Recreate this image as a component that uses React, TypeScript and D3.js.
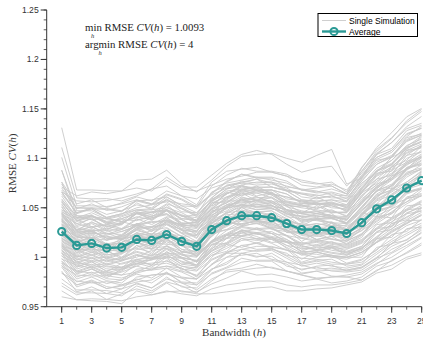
import React from "react";
import * as d3 from "d3";

// Bandwidth values
const BANDWIDTHS: number[] = d3.range(1, 26);

// Average RMSE CV(h) over simulations
const AVERAGE: number[] = [
  1.026, 1.012, 1.014, 1.0093, 1.010, 1.018, 1.017, 1.023, 1.016, 1.011,
  1.028, 1.037, 1.042, 1.042, 1.040, 1.034, 1.028, 1.028, 1.027, 1.024,
  1.035, 1.049, 1.058, 1.070, 1.0775,
];

// Single simulations, as deviations from the average (thousandths)
const SIM_A: number[][] = [
  [2,-1,1,0,-2,1,3,0,-1,2,0,1,-2,0,3,1,-1,0,2,-1,1,3,0,-2,1],
  [8,4,6,3,5,7,4,6,5,3,6,8,5,4,7,5,3,6,4,5,7,9,8,6,9],
  [-3,-6,-4,-7,-5,-3,-6,-4,-8,-5,-4,-6,-3,-5,-7,-4,-6,-5,-3,-6,-8,-7,-9,-6,-8],
  [14,9,11,12,8,10,13,11,9,12,10,13,11,9,12,14,10,11,13,9,12,15,14,16,13],
  [-8,-12,-9,-11,-13,-10,-8,-12,-10,-9,-11,-13,-10,-8,-11,-12,-9,-10,-12,-11,-13,-15,-14,-16,-15],
  [20,14,17,15,13,16,18,14,16,15,17,14,16,19,15,13,16,18,15,14,19,21,22,20,23],
  [-12,-17,-14,-16,-13,-15,-18,-14,-16,-15,-13,-17,-15,-14,-16,-18,-15,-13,-16,-14,-19,-21,-20,-23,-22],
  [25,19,21,22,18,20,23,21,19,22,20,18,21,23,20,19,22,20,18,21,26,28,27,30,29],
  [-18,-22,-19,-21,-23,-20,-18,-22,-20,-19,-21,-23,-20,-18,-21,-22,-19,-20,-22,-21,-26,-28,-27,-29,-30],
  [30,24,27,25,23,26,28,24,26,25,27,24,26,28,25,23,26,27,25,24,31,34,33,36,35],
  [-22,-27,-24,-26,-28,-25,-23,-27,-25,-24,-26,-28,-25,-23,-26,-27,-24,-25,-27,-26,-32,-34,-33,-36,-35],
  [36,28,31,29,32,30,28,31,33,30,29,32,30,28,31,33,30,29,31,32,38,41,40,43,42],
  [-27,-32,-29,-31,-33,-30,-28,-32,-30,-29,-31,-33,-30,-28,-31,-32,-29,-30,-32,-31,-38,-41,-40,-42,-43],
  [-15,-12,-9,-7,-5,-2,0,3,2,4,6,8,9,11,12,10,13,14,12,11,16,18,20,19,21],
  [18,14,12,10,9,6,5,3,2,0,-2,-3,-5,-4,-6,-7,-8,-6,-9,-8,-11,-13,-12,-14,-15],
  [48,37,40,38,41,39,36,40,42,38,37,40,42,39,38,41,40,37,39,38,47,52,50,54,53],
  [-36,-42,-39,-41,-38,-40,-43,-39,-41,-37,-40,-42,-38,-41,-39,-43,-40,-38,-41,-39,-48,-52,-50,-55,-53],
  [12,5,9,4,7,10,6,12,8,5,10,7,11,6,9,12,7,10,5,8,11,14,10,13,12],
];

const SIM_B: number[][] = [
  [-6,-11,-7,-10,-6,-9,-12,-7,-10,-8,-5,-9,-11,-7,-10,-6,-9,-12,-8,-10,-12,-10,-13,-11,-14],
  [22,16,20,17,19,21,16,18,22,19,17,20,15,18,21,17,19,16,20,18,24,22,26,25,27],
  [-16,-20,-17,-19,-21,-16,-18,-20,-17,-19,-15,-18,-21,-17,-19,-16,-20,-18,-17,-19,-24,-23,-26,-25,-27],
  [40,33,36,34,37,35,33,38,36,34,32,36,34,37,35,33,36,34,38,35,44,47,45,49,48],
  [-32,-37,-34,-36,-33,-35,-38,-34,-36,-33,-35,-37,-34,-36,-33,-35,-37,-34,-36,-35,-43,-46,-44,-48,-47],
  [6,1,4,2,5,3,1,4,2,5,3,6,2,4,1,3,5,2,4,3,5,2,6,4,7],
  [-1,-5,-2,-4,-1,-3,-6,-2,-4,-1,-3,-5,-2,-4,-1,-3,-5,-2,-4,-3,-5,-3,-6,-4,-7],
  [16,11,13,10,12,14,11,13,15,12,14,16,13,15,17,14,16,13,15,14,20,23,22,25,24],
  [-9,-14,-11,-13,-10,-12,-15,-11,-13,-10,-12,-14,-11,-13,-10,-12,-14,-11,-13,-12,-17,-19,-18,-21,-20],
  [62,30,24,22,25,23,21,24,26,23,21,24,22,25,23,21,24,22,25,23,30,33,31,35,34],
  [105,56,54,58,57,52,50,55,53,56,45,42,40,44,46,48,45,43,47,44,50,55,52,58,56],
  [85,48,45,50,47,44,52,49,46,48,42,38,36,39,41,43,40,38,42,40,48,52,50,55,53],
  [75,40,38,42,44,40,37,41,43,40,35,33,31,34,36,34,37,35,33,36,42,45,43,48,46],
  [62,35,33,31,34,30,32,35,33,31,28,30,27,29,31,33,30,28,31,29,36,39,37,41,40],
  [50,28,27,30,26,29,31,27,29,26,25,27,29,26,28,30,27,25,28,26,33,35,36,38,37],
  [45,50,52,55,57,60,62,65,58,55,50,55,60,62,65,66,68,75,82,50,45,55,58,62,65],
  [40,45,42,48,50,46,52,58,55,60,55,58,62,66,64,60,58,62,65,48,52,58,62,68,72],
  [30,25,28,26,24,27,29,25,27,26,30,32,35,33,36,38,40,42,45,40,55,62,68,72,73],
];

const SIM_C: number[][] = [
  [-66,-55,-56,-52,-54,-58,-55,-57,-53,-50,-60,-65,-68,-66,-64,-62,-58,-56,-55,-50,-58,-62,-66,-70,-73],
  [-55,-50,-48,-52,-47,-50,-53,-49,-51,-46,-55,-58,-56,-60,-57,-54,-52,-50,-53,-48,-55,-58,-62,-65,-63],
  [-48,-45,-47,-43,-46,-44,-48,-45,-42,-44,-50,-52,-55,-53,-50,-48,-46,-49,-47,-42,-50,-55,-58,-60,-58],
  [-42,-40,-38,-41,-39,-43,-40,-38,-42,-39,-45,-48,-47,-45,-43,-41,-44,-42,-40,-37,-45,-50,-53,-55,-52],
  [50,42,44,41,45,43,40,44,46,42,48,50,47,49,46,48,50,47,45,40,52,56,58,60,58],
  [-40,-47,-44,-46,-42,-45,-48,-43,-46,-42,-44,-47,-43,-46,-44,-48,-45,-42,-46,-44,-52,-56,-54,-58,-57],
  [32,30,28,27,29,26,24,25,22,20,18,16,14,15,12,10,9,11,8,7,6,8,5,4,6],
  [-30,-28,-26,-27,-24,-22,-20,-18,-16,-15,-12,-10,-8,-6,-5,-3,-1,0,2,3,8,12,15,18,20],
  [-2,3,5,8,10,12,14,15,17,19,21,23,25,26,24,27,28,26,29,27,34,38,40,42,45],
  [12,8,6,4,2,0,-3,-5,-8,-10,-12,-14,-16,-18,-20,-19,-22,-23,-25,-24,-30,-34,-36,-38,-40],
  [10,2,8,1,9,3,7,0,6,2,9,4,8,3,7,1,6,4,9,2,8,5,11,6,10],
  [-4,-10,-3,-9,-5,-8,-2,-10,-4,-7,-3,-9,-5,-8,-2,-9,-4,-7,-3,-8,-6,-10,-5,-11,-8],
  [19,15,17,14,18,16,13,17,15,18,14,16,19,15,17,14,18,16,15,17,22,20,24,23,25],
  [-19,-24,-21,-23,-20,-22,-25,-21,-23,-20,-22,-24,-21,-23,-20,-22,-24,-21,-23,-22,-28,-31,-29,-33,-32],
  [4,0,3,-1,2,5,1,3,0,2,4,1,3,-1,2,0,3,1,-1,2,3,1,4,2,5],
  [31,25,28,26,29,27,24,28,26,29,25,27,30,26,28,25,29,27,26,28,35,38,36,40,39],
  [-24,-29,-26,-28,-25,-27,-30,-26,-28,-25,-30,-32,-34,-31,-29,-27,-25,-28,-26,-24,-30,-34,-32,-36,-35],
  [17,12,15,13,16,14,11,15,13,16,12,14,17,13,15,12,16,14,13,15,19,22,20,24,23],
];

const SIM_D: number[][] = [
  [-13,-18,-15,-17,-14,-16,-19,-15,-17,-14,-16,-18,-15,-17,-14,-16,-18,-15,-17,-16,-21,-24,-22,-26,-25],
  [38,33,35,31,34,32,36,33,30,34,32,35,33,31,34,36,33,31,35,32,42,45,44,47,46],
  [-30,-34,-31,-33,-36,-32,-30,-34,-31,-33,-35,-32,-30,-34,-31,-33,-35,-32,-34,-31,-40,-44,-42,-46,-45],
  [11,7,10,8,11,9,6,10,8,11,7,9,12,8,10,7,11,9,8,10,13,11,15,14,16],
  [1,-3,0,-2,1,-1,-4,0,-2,1,-1,-3,0,-2,1,-1,-3,0,-2,-1,-2,0,-3,-1,-4],
  [18,22,16,24,19,15,23,20,17,25,21,18,24,19,16,22,25,18,21,17,28,24,30,26,31],
  [-22,-16,-24,-18,-21,-25,-17,-20,-23,-15,-19,-22,-16,-24,-20,-18,-23,-21,-17,-22,-25,-29,-24,-30,-27],
  [44,38,35,39,36,40,37,34,38,41,36,39,42,38,40,37,41,39,36,38,46,50,48,52,55],
  [-34,-40,-37,-39,-42,-38,-35,-40,-37,-39,-41,-37,-40,-38,-42,-39,-36,-40,-38,-37,-45,-49,-47,-52,-50],
  [7,4,6,3,5,2,4,1,3,0,2,-1,1,-2,0,-3,-1,-4,-2,-3,-6,-4,-7,-5,-8],
  [-7,-4,-6,-2,-4,-1,-3,0,-1,2,1,3,2,4,3,5,4,6,5,4,8,10,9,11,12],
  [27,22,25,21,24,26,22,25,23,26,24,21,25,23,26,22,24,27,23,25,32,30,34,33,36],
  [-21,-26,-23,-25,-22,-24,-27,-23,-25,-22,-24,-26,-23,-25,-22,-24,-26,-23,-25,-24,-30,-33,-31,-35,-34],
  [-52,-48,-50,-46,-49,-47,-51,-48,-45,-47,-52,-50,-53,-49,-51,-48,-46,-50,-47,-44,-58,-63,-61,-66,-65],
  [42,38,36,40,37,39,41,38,36,40,44,46,48,45,47,50,48,46,49,42,56,60,63,66,70],
  [13,9,12,10,8,11,14,10,12,9,11,13,10,12,9,11,13,10,12,11,15,18,16,19,18],
  [-11,-15,-12,-14,-11,-13,-16,-12,-14,-11,-13,-15,-12,-14,-11,-13,-15,-12,-14,-13,-18,-20,-19,-22,-21],
  [-4,3,-2,4,-3,2,-5,3,-1,4,-2,3,-4,2,-3,4,-1,3,-2,1,-4,3,-5,2,-3],
  [-60,-55,-58,-54,-57,-52,-55,-58,-50,-48,-65,-72,-75,-73,-70,-68,-62,-60,-58,-52,-60,-65,-70,-72,-75],
];

const SIM_E: number[][] = [
  [5,-8,3,-6,8,-4,6,-9,4,-3,7,-5,9,-2,5,-7,3,-4,8,-6,10,-8,12,-5,9],
  [-15,-5,-12,-3,-10,-6,-14,-4,-11,-7,-13,-2,-9,-5,-12,-8,-3,-10,-6,-11,-15,-8,-18,-10,-16],
  [25,15,22,18,26,14,20,24,16,21,27,19,23,15,25,20,17,24,18,22,30,26,33,28,35],
  [-28,-20,-25,-30,-22,-27,-19,-24,-29,-21,-26,-31,-23,-28,-20,-25,-30,-22,-27,-24,-35,-30,-38,-33,-40],
  [15,18,12,20,16,13,19,14,17,21,15,12,18,16,20,14,17,19,13,16,22,25,21,27,24],
  [0,6,-3,5,-1,7,-4,3,1,-5,4,-2,6,0,-4,5,-3,2,-6,1,-2,5,-4,3,-1],
  [-10,-4,-8,-2,-12,-6,-9,-3,-11,-5,-7,-1,-10,-4,-8,-6,-12,-3,-9,-7,-12,-8,-14,-9,-13],
  [33,27,29,24,31,28,26,30,25,32,29,27,31,25,28,30,26,33,27,29,40,37,43,39,44],
  [-35,-30,-33,-28,-31,-34,-29,-32,-27,-30,-36,-33,-38,-35,-32,-30,-34,-31,-29,-33,-42,-39,-45,-41,-47],
  [10,16,13,18,11,15,9,17,12,14,8,15,11,16,13,9,14,12,17,10,16,19,14,21,17],
  [-20,-14,-18,-12,-17,-21,-15,-19,-13,-16,-22,-18,-14,-19,-16,-12,-17,-20,-15,-18,-24,-20,-27,-22,-28],
  [22,28,24,30,26,22,29,25,23,27,31,28,26,30,24,27,29,25,28,26,34,38,35,41,39],
  [-25,-18,-22,-16,-20,-24,-19,-23,-17,-21,-18,-15,-20,-17,-22,-19,-16,-21,-18,-20,-27,-24,-30,-26,-31],
  [3,9,6,12,8,4,10,7,5,11,7,3,9,6,10,8,4,11,7,5,9,13,10,15,11],
  [-2,-8,-5,-11,-7,-3,-9,-6,-4,-10,-6,-2,-8,-5,-9,-7,-3,-10,-6,-4,-8,-12,-9,-14,-10],
  [18,10,14,8,12,16,9,13,11,15,19,13,17,11,15,18,12,16,14,13,21,17,24,19,26],
  [-14,-22,-18,-24,-16,-20,-25,-17,-21,-19,-15,-23,-17,-21,-25,-18,-22,-16,-20,-19,-26,-30,-24,-32,-28],
  [28,20,26,19,23,27,21,25,18,24,22,29,20,26,23,19,25,21,27,22,31,36,29,38,33],
  [-32,-26,-30,-24,-28,-33,-25,-29,-27,-31,-28,-24,-32,-27,-30,-26,-33,-28,-25,-30,-37,-42,-35,-44,-39],
  [7,13,10,15,9,12,6,14,11,8,13,10,16,9,12,14,8,11,13,10,14,18,12,20,16],
  [-7,-1,-4,2,-6,-3,-8,0,-5,-2,-7,-4,1,-6,-3,-9,-2,-5,0,-4,-5,-1,-7,-3,-9],
  [40,32,35,30,33,37,31,36,34,32,38,35,33,37,31,34,36,32,35,33,45,49,43,51,47],
  [-42,-36,-40,-34,-38,-41,-35,-39,-37,-33,-40,-44,-38,-42,-36,-39,-41,-37,-35,-38,-46,-50,-44,-53,-48],
  [20,26,17,23,28,19,25,21,18,24,16,22,27,20,25,18,23,26,19,21,26,30,25,33,29],
  [-17,-11,-15,-9,-13,-18,-10,-14,-12,-16,-20,-14,-18,-12,-16,-19,-13,-17,-11,-15,-20,-16,-23,-18,-24],
];

const Y_TICKS: number[] = [0.95, 1, 1.05, 1.1, 1.15, 1.2, 1.25];
const X_TICK_LABELS: number[] = [1, 3, 5, 7, 9, 11, 13, 15, 17, 19, 21, 23, 25];

const MIN_RMSE = "1.0093";
const ARGMIN = "4";

const W = 423;
const H = 341;
const TEAL = "#2b9a95";
const GRAY = "#cacaca";
const AX = "#333333";
const SANS = "'Liberation Sans', Arial, sans-serif";
const SERIF = "'Liberation Serif', 'Times New Roman', serif";

export default function App() {
  const x = d3.scaleLinear().domain([0, 25]).range([46.7, 421.7]);
  const y = d3.scaleLinear().domain([0.95, 1.25]).range([306.7, 10]);

  const sims = [...SIM_A, ...SIM_B, ...SIM_C, ...SIM_D, ...SIM_E];
  const line = d3
    .line<number>()
    .x((_, i) => x(BANDWIDTHS[i]))
    .y((v) => y(v));

  const minorY = d3.range(95, 126).map((v) => v / 100);
  const minorX = d3.range(1, 26);

  return (
    <svg
      width={W}
      height={H}
      style={{ position: "absolute", left: 0, top: 0, background: "#fff" }}
    >
      <defs>
        <clipPath id="plot">
          <rect x={x(0)} y={y(1.25)} width={x(25) - x(0)} height={y(0.95) - y(1.25)} />
        </clipPath>
      </defs>

      <g clipPath="url(#plot)">
        {sims.map((dev, k) => (
          <path
            key={k}
            d={line(dev.map((d, i) => AVERAGE[i] + d / 1000)) || ""}
            fill="none"
            stroke={GRAY}
            strokeWidth={0.9}
          />
        ))}
      </g>

      <path d={line(AVERAGE) || ""} fill="none" stroke={TEAL} strokeWidth={2.4} />
      {AVERAGE.map((v, i) => (
        <circle
          key={i}
          cx={x(BANDWIDTHS[i])}
          cy={y(v)}
          r={3.6}
          fill="none"
          stroke={TEAL}
          strokeWidth={2}
        />
      ))}

      {/* Y axis */}
      <line x1={x(0)} x2={x(0)} y1={y(1.25)} y2={y(0.95)} stroke={AX} strokeWidth={1} />
      {minorY.map((v) => (
        <line key={"my" + v} x1={x(0) - 3} x2={x(0)} y1={y(v)} y2={y(v)} stroke={AX} strokeWidth={0.8} />
      ))}
      {Y_TICKS.map((v) => (
        <g key={"y" + v}>
          <line x1={x(0) - 6} x2={x(0)} y1={y(v)} y2={y(v)} stroke={AX} strokeWidth={1} />
          <text
            x={x(0) - 8}
            y={y(v)}
            dy="0.35em"
            textAnchor="end"
            fontFamily={SANS}
            fontSize={8.6}
            fill="#333"
          >
            {d3.format("~g")(v)}
          </text>
        </g>
      ))}

      {/* X axis */}
      <line x1={x(0)} x2={x(25)} y1={y(0.95)} y2={y(0.95)} stroke={AX} strokeWidth={1} />
      {minorX.map((v) => (
        <line key={"mx" + v} x1={x(v)} x2={x(v)} y1={y(0.95)} y2={y(0.95) + 3} stroke={AX} strokeWidth={0.8} />
      ))}
      {X_TICK_LABELS.map((v) => (
        <g key={"x" + v}>
          <line x1={x(v)} x2={x(v)} y1={y(0.95)} y2={y(0.95) + 6} stroke={AX} strokeWidth={1} />
          <text
            x={x(v)}
            y={323.5}
            textAnchor="middle"
            fontFamily={SANS}
            fontSize={8.6}
            fill="#333"
          >
            {v}
          </text>
        </g>
      ))}

      {/* Axis labels */}
      <text x={234} y={335.5} textAnchor="middle" fontFamily={SERIF} fontSize={11} fill="#333">
        Bandwidth (<tspan fontStyle="italic">h</tspan>)
      </text>
      <text
        transform={`translate(16, ${(y(1.25) + y(0.95)) / 2 + 5}) rotate(-90)`}
        textAnchor="middle"
        fontFamily={SERIF}
        fontSize={11}
        fill="#333"
      >
        RMSE <tspan fontStyle="italic">CV</tspan>(<tspan fontStyle="italic">h</tspan>)
      </text>

      {/* Annotation */}
      <g fontFamily={SERIF} fill="#222">
        <text x={85} y={31} fontSize={10.8}>
          min RMSE <tspan fontStyle="italic">CV</tspan>(<tspan fontStyle="italic">h</tspan>) = {MIN_RMSE}
        </text>
        <text x={92.5} y={37.5} fontSize={6.5} fontStyle="italic" textAnchor="middle">h</text>
        <text x={85} y={47.5} fontSize={10.8}>
          argmin RMSE <tspan fontStyle="italic">CV</tspan>(<tspan fontStyle="italic">h</tspan>) = {ARGMIN}
        </text>
        <text x={100} y={55} fontSize={6.5} fontStyle="italic" textAnchor="middle">h</text>
      </g>

      {/* Legend */}
      <g>
        <rect x={318} y={13.5} width={99.5} height={23} fill="#fff" stroke="#000" strokeWidth={1} />
        <line x1={322} x2={346} y1={20.5} y2={20.5} stroke={GRAY} strokeWidth={0.9} />
        <text x={349} y={23.8} fontFamily={SANS} fontSize={8.5} fill="#000">Single Simulation</text>
        <line x1={322} x2={346} y1={31.5} y2={31.5} stroke={TEAL} strokeWidth={2.4} />
        <circle cx={334} cy={31.5} r={3.6} fill="none" stroke={TEAL} strokeWidth={2} />
        <text x={349} y={34.5} fontFamily={SANS} fontSize={8.5} fill="#000">Average</text>
      </g>
    </svg>
  );
}
